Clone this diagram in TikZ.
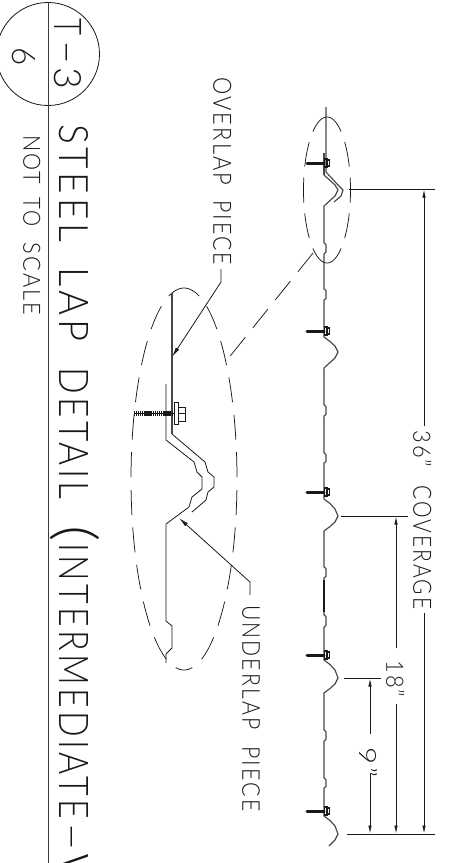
\documentclass[tikz,border=0pt]{standalone}
\usepackage{fontspec}
\usepackage{graphicx}
\setmainfont{Lato Light}
\usetikzlibrary{arrows.meta}
\definecolor{ink}{gray}{0.1}
\tikzset{
  x=1pt,y=-1pt,
  dim/.style={draw=ink,line width=0.75pt},
  dimarrow/.style={draw=ink,line width=0.75pt,-{Latex[length=8pt,width=3.4pt]}},
  profile/.style={draw=ink!80!white,line width=1.15pt,line join=round},
  thin profile/.style={draw=ink,line width=0.8pt,line join=miter},
  cadlabel/.style={rotate=-90,anchor=south west,inner sep=0pt,text=ink},
}
\newcommand{\cadtext}[6]{\node[cadlabel] (#1) at (#2,#3) {\resizebox{#5pt}{#4pt}{\addfontfeature{LetterSpace=10}#6\kern-0.1em}};}
\newcommand{\smallscrew}[1]{
  \draw[ink,line width=3pt,line cap=round] (307,#1) -- (324,#1);
  \draw[ink,line width=1.8pt] (324.5,{#1-4}) rectangle (327,{#1+4});
  \draw[ink,line width=1.2pt] (327,{#1-3}) rectangle (329.5,{#1+3});
}
% centre x, centre y, a, b, from angle, to angle, dash on, dash off, phase
\newcommand{\dashquarter}[9]{
  \draw[draw=ink,line width=0.75pt,dash pattern=on #7pt off #8pt,dash phase=#9pt]
    plot[domain=#5:#6,samples=40,smooth] ({#1+#3*cos(\x)},{#2-#4*sin(\x)});
}
\begin{document}
\begin{tikzpicture}
\useasboundingbox (0,0) rectangle (461,863);
\fill[white] (0,0) rectangle (461,863);
% title block
\draw[ink,line width=0.8pt] (48,54) circle (51.5);
\coordinate (ruletop) at (48,2);
\coordinate (rulebot) at (48,863);
\draw[ink!85!white,line width=0.9pt] (ruletop) -- (rulebot);
\cadtext{t1}{54}{18}{27}{14}{T}
\cadtext{t2}{54}{40}{13}{20}{–}
\cadtext{t3}{54}{67}{27}{18}{3}
\cadtext{six}{12}{47}{23}{15}{6}
\cadtext{w1}{59}{124}{29}{114}{STEEL}
\cadtext{w2}{59}{267}{29}{70}{LAP}
\cadtext{w3}{59}{367}{29}{129}{DETAIL}
\cadtext{w4}{50}{525}{42}{10}{(}
\cadtext{w5}{59}{543}{29}{272}{INTERMEDIATE}
\cadtext{w6}{59}{822}{13}{24}{–}
\begin{scope}
\clip (0,0) rectangle (461,863);
\cadtext{w7}{59}{853}{29}{42}{W}
\end{scope}
\cadtext{n1}{23}{135}{17}{47}{NOT}
\cadtext{n2}{23}{197}{17}{27}{TO}
\cadtext{n3}{23}{242}{17}{71}{SCALE}
% labels of pieces
\cadtext{o1}{213}{77}{18}{106}{OVERLAP}
\cadtext{o2}{213}{200}{18}{63}{PIECE}
\cadtext{u1}{242}{605}{17.5}{122}{UNDERLAP}
\cadtext{u2}{242}{746}{17.5}{63}{PIECE}
% dimension labels
\cadtext{d36}{413}{430}{18}{35}{36”}
\cadtext{dcov}{413}{485}{18}{122}{COVERAGE}
\cadtext{d18}{386}{660}{18}{35}{18”}
\cadtext{d9}{359}{747}{18}{27}{9”}
% small lap
\draw[profile] (326,107) -- (326,172) -- (338,185) -- (343,190) -- (341,196) -- (334,202);
\draw[profile,line width=1.6pt] (324,153) -- (324,175);
\draw[profile] (324,175) -- (335,185) -- (338,190) -- (335,196) -- (324,206) -- (324,243)
  -- (326,244.5) -- (326,252) -- (324,254) -- (324,289) -- (326,290.5) -- (326,298.5) -- (324,300)
  -- (324,337) -- (330,341.5) -- (335,346) -- (338,352) -- (335,358) -- (330,362.5) -- (324,368)
  -- (324,405) -- (326,406.5) -- (326,414.5) -- (324,416) -- (324,453) -- (326,454.5) -- (326,461.5) -- (324,463)
  -- (324,499) -- (330,503.5) -- (335,509) -- (338,516) -- (335,522) -- (330,526.5) -- (324,531)
  -- (324,567) -- (326,568.5) -- (326,576.5) -- (324,578) -- (324,615) -- (326,616.5) -- (326,625.5) -- (324,627)
  -- (324,660) -- (330,664.5) -- (335,670) -- (338,678) -- (335,684) -- (330,688.5) -- (324,693)
  -- (324,730) -- (326,731.5) -- (326,739.5) -- (324,741) -- (324,778) -- (326,779.5) -- (326,786.5) -- (324,788)
  -- (324,816) -- (330,820.5) -- (335,826) -- (338,834) -- (335,840) -- (329,846);
\draw[ink,line width=1.6pt] (324,580) -- (324,612);
\smallscrew{163}
\smallscrew{331}
\smallscrew{492}
\smallscrew{655}
\smallscrew{811}
% dashed ellipses and leader
\dashquarter{327}{190}{23.5}{73}{0}{90}{25}{11}{12.5}
\dashquarter{327}{190}{23.5}{73}{180}{90}{25}{11}{12.5}
\dashquarter{327}{190}{23.5}{73}{0}{-90}{25}{11}{12.5}
\dashquarter{327}{190}{23.5}{73}{180}{270}{25}{11}{12.5}
\dashquarter{184}{479}{53}{191}{0}{90}{25}{12.5}{35.5}
\dashquarter{184}{479}{53}{191}{180}{90}{25}{12.5}{35.5}
\dashquarter{184}{479}{53}{191}{0}{-90}{25}{12.5}{26.5}
\dashquarter{184}{479}{53}{191}{180}{270}{25}{12.5}{26.5}
\coordinate (leadA) at (313,253);
\coordinate (leadB) at (227,360);
\draw[draw=ink,line width=0.75pt,dash pattern=on 24pt off 12pt] (leadA) -- (leadB);
% dimensions
\coordinate (e36a) at (349,189); \coordinate (e36b) at (435,189);
\coordinate (base1) at (347,834); \coordinate (base2) at (435,834);
\coordinate (e18a) at (341,516); \coordinate (e18b) at (408,516);
\coordinate (e9a) at (344,678); \coordinate (e9b) at (381,678);
\draw[dim] (e36a) -- (e36b);
\draw[dim,line width=1pt] (base1) -- (base2);
\draw[dim] (e18a) -- (e18b);
\draw[dim] (e9a) -- (e9b);
\coordinate (a36t) at (424,426); \coordinate (a36h) at (424,189.5);
\coordinate (a36s) at (424,613); \coordinate (a36e) at (424,833.5);
\draw[dimarrow] (a36t) -- (a36h);
\draw[dimarrow] (a36s) -- (a36e);
\coordinate (a18t) at (396,648); \coordinate (a18h) at (396,516.5);
\coordinate (a18s) at (396,704); \coordinate (a18e) at (396,833.5);
\draw[dimarrow] (a18t) -- (a18h);
\draw[dimarrow] (a18s) -- (a18e);
\coordinate (a9t) at (370,734); \coordinate (a9h) at (370,678.5);
\coordinate (a9s) at (370,773); \coordinate (a9e) at (370,833.5);
\draw[dimarrow] (a9t) -- (a9h);
\draw[dimarrow] (a9s) -- (a9e);
% large detail
\draw[profile,line width=1.4pt] (172,293) -- (172,434);
\draw[thin profile] (172,434) -- (205,462) -- (208,472) -- (214,477) -- (214,487) -- (208,492) -- (206,500) -- (192,512);
\draw[thin profile] (166,384) -- (166,440) -- (194,462) -- (197,472) -- (202,477) -- (202,489) -- (192,497) -- (189,507) -- (166,524) -- (166,621) -- (172,626) -- (172,648) -- (166,654) -- (166,663);
% detail fastener
\draw[ink,line width=5pt,dash pattern=on 1.3pt off 0.6pt] (134,413) -- (174,413);
\draw[ink,line width=1pt] (134,413) -- (174,413);
\draw[ink,line width=1pt,fill=white] (174.5,402) rectangle (178,424);
\draw[ink,line width=1pt,fill=white] (178,407) rectangle (185,421);
\draw[ink,line width=0.7pt] (178,413) -- (185,413);
% leaders
\coordinate (ovA) at (221,269); \coordinate (ovB) at (221,282); \coordinate (ovC) at (172,357);
\draw[draw=ink,line width=0.8pt,-{Latex[length=10pt,width=4pt]}] (ovA) -- (ovB) -- (ovC);
\coordinate (unA) at (250,595); \coordinate (unB) at (250,582); \coordinate (unC) at (179,518);
\draw[draw=ink,line width=0.8pt,-{Latex[length=10pt,width=4pt]}] (unA) -- (unB) -- (unC);
\end{tikzpicture}
\end{document}
